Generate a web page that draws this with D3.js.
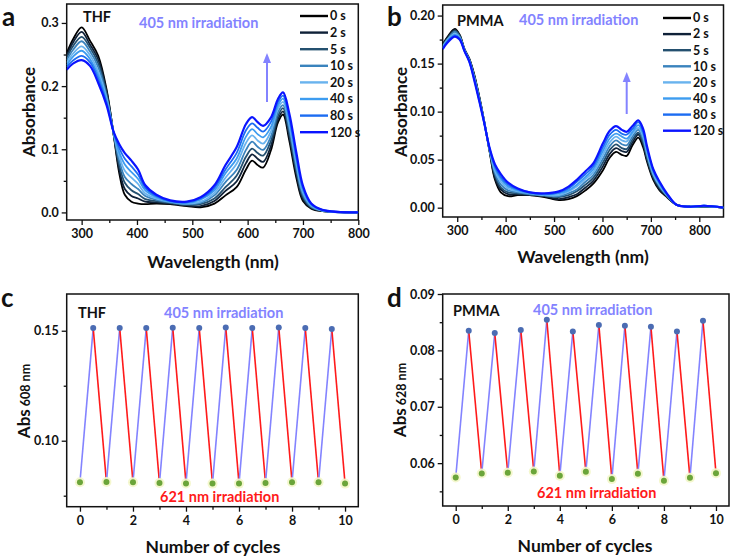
<!DOCTYPE html>
<html><head><meta charset="utf-8">
<script src="https://cdn.jsdelivr.net/npm/d3@7"></script>
<style>
body{margin:0;background:#fff}
svg text{font-family:Lato,'Open Sans',sans-serif;font-weight:bold;fill:#111}
</style></head><body>
<svg id="c" width="731" height="557"></svg>
<script>
// ---------------- DATA ----------------
const TIMES = ["0 s","2 s","5 s","10 s","20 s","40 s","80 s","120 s"];

// Panel a: THF spectra
const WL_THF = [273,285,300,315,330,345,358,368,378,390,402,415,435,460,490,515,540,560,580,597,608,618,628,642,655,664,675,688,700,715,735,800];
const THF_0s   = [0.252,0.275,0.293,0.272,0.248,0.195,0.122,0.062,0.028,0.017,0.014,0.013,0.014,0.013,0.010,0.008,0.014,0.027,0.040,0.068,0.082,0.075,0.071,0.098,0.143,0.155,0.115,0.055,0.018,0.006,0.002,0.000];
const THF_2s   = [0.248,0.270,0.286,0.266,0.242,0.192,0.123,0.068,0.037,0.026,0.022,0.017,0.016,0.014,0.011,0.010,0.018,0.034,0.049,0.078,0.092,0.085,0.080,0.105,0.148,0.160,0.121,0.061,0.021,0.007,0.002,0.000];
const THF_5s   = [0.245,0.264,0.278,0.261,0.236,0.188,0.123,0.075,0.047,0.035,0.029,0.021,0.018,0.015,0.012,0.013,0.022,0.040,0.058,0.088,0.101,0.094,0.090,0.113,0.153,0.165,0.127,0.066,0.025,0.008,0.003,0.000];
const THF_10s  = [0.241,0.258,0.271,0.255,0.230,0.184,0.124,0.082,0.056,0.045,0.037,0.026,0.020,0.016,0.013,0.015,0.027,0.048,0.067,0.099,0.112,0.104,0.099,0.120,0.159,0.170,0.134,0.072,0.028,0.009,0.003,0.000];
const THF_20s  = [0.237,0.252,0.263,0.249,0.223,0.181,0.125,0.089,0.066,0.055,0.045,0.030,0.022,0.017,0.014,0.017,0.031,0.055,0.077,0.110,0.122,0.114,0.109,0.128,0.165,0.175,0.140,0.078,0.032,0.011,0.003,0.000];
const THF_40s  = [0.233,0.247,0.256,0.243,0.217,0.177,0.126,0.095,0.076,0.064,0.053,0.035,0.024,0.017,0.015,0.020,0.035,0.062,0.085,0.120,0.132,0.124,0.119,0.135,0.170,0.180,0.146,0.084,0.035,0.012,0.003,0.000];
const THF_80s  = [0.230,0.241,0.248,0.238,0.211,0.174,0.126,0.102,0.085,0.073,0.060,0.039,0.026,0.018,0.016,0.022,0.039,0.068,0.094,0.130,0.141,0.134,0.128,0.143,0.175,0.185,0.152,0.089,0.039,0.013,0.004,0.000];
const THF_120s = [0.226,0.236,0.241,0.232,0.205,0.170,0.127,0.108,0.094,0.082,0.068,0.043,0.028,0.019,0.017,0.024,0.043,0.075,0.103,0.140,0.151,0.143,0.137,0.150,0.180,0.190,0.158,0.095,0.042,0.014,0.004,0.000];

// Panel b: PMMA spectra
const WL_PMMA = [270,280,295,305,315,325,335,345,355,367,378,390,405,425,450,480,510,530,547,565,581,601,615,628,640,650,662,674,684,692,705,718,733,753,780,810,850];
const PMMA_0s   = [0.170,0.178,0.186,0.180,0.165,0.155,0.139,0.117,0.092,0.058,0.029,0.016,0.012,0.013,0.013,0.011,0.008,0.009,0.012,0.018,0.025,0.039,0.052,0.058,0.055,0.054,0.065,0.073,0.063,0.048,0.029,0.018,0.011,0.003,0.001,0.001,0.000];
const PMMA_2s   = [0.169,0.177,0.185,0.179,0.165,0.155,0.138,0.116,0.092,0.059,0.031,0.019,0.014,0.014,0.013,0.012,0.009,0.011,0.014,0.021,0.028,0.043,0.056,0.062,0.059,0.058,0.068,0.076,0.066,0.050,0.031,0.019,0.012,0.003,0.001,0.001,0.000];
const PMMA_5s   = [0.169,0.176,0.184,0.179,0.164,0.154,0.137,0.116,0.091,0.059,0.034,0.021,0.016,0.015,0.014,0.012,0.011,0.013,0.017,0.024,0.031,0.047,0.060,0.066,0.062,0.061,0.071,0.078,0.068,0.052,0.032,0.021,0.012,0.003,0.001,0.001,0.000];
const PMMA_10s  = [0.168,0.175,0.183,0.178,0.164,0.154,0.136,0.115,0.091,0.060,0.036,0.024,0.018,0.016,0.014,0.013,0.012,0.015,0.019,0.027,0.034,0.051,0.064,0.070,0.066,0.065,0.074,0.081,0.071,0.055,0.034,0.022,0.013,0.003,0.001,0.001,0.000];
const PMMA_20s  = [0.167,0.175,0.181,0.177,0.164,0.153,0.136,0.114,0.091,0.060,0.038,0.027,0.020,0.017,0.015,0.013,0.013,0.017,0.022,0.030,0.037,0.055,0.068,0.074,0.070,0.069,0.077,0.083,0.074,0.057,0.035,0.023,0.013,0.003,0.001,0.002,0.000];
const PMMA_40s  = [0.166,0.174,0.180,0.176,0.164,0.153,0.135,0.113,0.091,0.061,0.041,0.030,0.022,0.018,0.015,0.014,0.015,0.018,0.024,0.032,0.040,0.059,0.072,0.077,0.074,0.072,0.079,0.086,0.077,0.060,0.037,0.025,0.014,0.003,0.001,0.002,0.000];
const PMMA_80s  = [0.166,0.173,0.179,0.176,0.163,0.152,0.134,0.113,0.090,0.061,0.043,0.032,0.024,0.019,0.016,0.014,0.016,0.020,0.027,0.035,0.043,0.063,0.076,0.081,0.077,0.076,0.082,0.089,0.079,0.062,0.039,0.026,0.014,0.003,0.001,0.002,0.000];
const PMMA_120s = [0.165,0.172,0.178,0.175,0.163,0.152,0.133,0.112,0.090,0.062,0.045,0.035,0.026,0.020,0.016,0.015,0.017,0.022,0.029,0.038,0.046,0.067,0.080,0.085,0.081,0.079,0.085,0.091,0.082,0.064,0.040,0.027,0.015,0.003,0.001,0.002,0.000];

// Panels c, d: switching cycles
const CYCLE_X = [0,0.5,1,1.5,2,2.5,3,3.5,4,4.5,5,5.5,6,6.5,7,7.5,8,8.5,9,9.5,10];
const THF_CYCLES  = [0.0811,0.1512,0.0812,0.1512,0.0811,0.1512,0.0808,0.1514,0.0806,0.1512,0.0805,0.1515,0.0805,0.1512,0.0808,0.1515,0.0811,0.1512,0.0811,0.1508,0.0805];
const PMMA_CYCLES = [0.05746,0.08348,0.05817,0.08307,0.05829,0.0836,0.05853,0.08543,0.05776,0.08336,0.05847,0.08448,0.05717,0.08437,0.05811,0.08419,0.05687,0.08336,0.0574,0.08525,0.05823];

// tick values
const A_XTICKS = [300,400,500,600,700,800], A_XMINOR = [350,450,550,650,750];
const A_YTICKS = [0,0.1,0.2,0.3], A_YMINOR = [0.05,0.15,0.25];
const B_XTICKS = [300,400,500,600,700,800], B_XMINOR = [350,450,550,650,750];
const B_YTICKS = [0,0.05,0.10,0.15,0.20], B_YMINOR = [0.025,0.075,0.125,0.175];
const C_XTICKS = [0,2,4,6,8,10], C_XMINOR = [1,3,5,7,9];
const C_YTICKS = [0.10,0.15], C_YMINOR = [0.075,0.125];
const D_YTICKS = [0.06,0.07,0.08,0.09], D_YMINOR = [0.055,0.065,0.075,0.085];

// ---------------- STYLE ----------------
const COLORS = ["#000000","#0f2138","#24506f","#3a83bd","#69b3ee","#3d9cf0","#1c6cf2","#0a14ff"];
const PURPLE = "#8383ff";

const svg = d3.select("#c");

function panel(box, x, y, xt, xm, yt, ym, yfmt) {
  const g = svg.append("g");
  const ax = g.append("g").attr("transform", `translate(0,${box.y1})`)
    .call(d3.axisBottom(x).tickValues(xt).tickSize(5).tickPadding(4).tickFormat(d3.format("d")));
  const axm = g.append("g").attr("transform", `translate(0,${box.y1})`)
    .call(d3.axisBottom(x).tickValues(xm).tickSize(3).tickFormat(""));
  const ay = g.append("g").attr("transform", `translate(${box.x0},0)`)
    .call(d3.axisLeft(y).tickValues(yt).tickSize(5).tickPadding(3).tickFormat(d3.format(yfmt)));
  const aym = g.append("g").attr("transform", `translate(${box.x0},0)`)
    .call(d3.axisLeft(y).tickValues(ym).tickSize(3).tickFormat(""));
  [ax, axm, ay, aym].forEach(a => {
    a.select(".domain").remove();
    a.selectAll("line").attr("stroke", "#111").attr("stroke-width", 1.3);
    a.selectAll("text").attr("font-size", 12.5).attr("fill", "#111");
  });
  g.append("rect").attr("x", box.x0).attr("y", box.y0)
    .attr("width", box.x1 - box.x0).attr("height", box.y1 - box.y0)
    .attr("fill", "none").attr("stroke", "#111").attr("stroke-width", 1.5);
  return g;
}

function text(x, y, s, size, fill, anchor) {
  return svg.append("text").attr("x", x).attr("y", y).text(s)
    .attr("font-size", size).style("fill", fill || "#111").attr("text-anchor", anchor || "start");
}
function rotText(x, y, size) {
  return svg.append("text").attr("transform", `translate(${x},${y}) rotate(-90)`)
    .attr("text-anchor", "middle").attr("font-size", size);
}

function spectra(box, id, wl, series, x, y) {
  svg.append("clipPath").attr("id", id).append("rect")
    .attr("x", box.x0).attr("y", box.y0).attr("width", box.x1 - box.x0).attr("height", box.y1 - box.y0);
  const line = d3.line().x((d, i) => x(wl[i])).y(d => y(d)).curve(d3.curveCatmullRom.alpha(0.5));
  const g = svg.append("g").attr("clip-path", `url(#${id})`);
  series.forEach((s, i) => {
    g.append("path").attr("d", line(s)).attr("fill", "none")
      .attr("stroke", COLORS[i]).attr("stroke-width", i === 7 ? 2.2 : 1.8);
  });
}

function legend(lx, ly, dy) {
  TIMES.forEach((t, i) => {
    svg.append("line").attr("x1", lx).attr("x2", lx + 28).attr("y1", ly + i * dy).attr("y2", ly + i * dy)
      .attr("stroke", COLORS[i]).attr("stroke-width", 2.4);
    svg.append("text").attr("x", lx + 30).attr("y", ly + i * dy).attr("dy", "0.35em")
      .attr("font-size", 12.5).text(t);
  });
}

function arrow(ax, yBottom, yTop) {
  svg.append("line").attr("x1", ax).attr("x2", ax).attr("y1", yBottom).attr("y2", yTop + 8)
    .attr("stroke", PURPLE).attr("stroke-width", 2);
  svg.append("path").attr("d", `M${ax - 4},${yTop + 10} L${ax},${yTop} L${ax + 4},${yTop + 10} Z`).attr("fill", PURPLE);
}

function cycles(box, x, y, vals) {
  const g = svg.append("g");
  for (let i = 0; i < vals.length - 1; i++) {
    const up = vals[i + 1] > vals[i];
    g.append("line").attr("x1", x(CYCLE_X[i])).attr("y1", y(vals[i]))
      .attr("x2", x(CYCLE_X[i + 1])).attr("y2", y(vals[i + 1]))
      .attr("stroke", up ? PURPLE : "#ff1a1a").attr("stroke-width", 1.6);
  }
  vals.forEach((v, i) => {
    const high = i % 2 === 1;
    if (!high) g.append("circle").attr("cx", x(CYCLE_X[i])).attr("cy", y(v)).attr("r", 5).attr("fill", "#f3f6c9").attr("opacity", 0.9);
    g.append("circle").attr("cx", x(CYCLE_X[i])).attr("cy", y(v)).attr("r", 3)
      .attr("fill", high ? "#4b6cb3" : "#6ba53a");
  });
}

// ---------------- PANEL A ----------------
const boxA = {x0: 66.7, x1: 358.3, y0: 4, y1: 220};
const xA = d3.scaleLinear().domain([273, 800]).range([boxA.x0, boxA.x1]);
const yA = d3.scaleLinear().domain([-0.012, 0.33]).range([boxA.y1, boxA.y0]);
panel(boxA, xA, yA, A_XTICKS, A_XMINOR, A_YTICKS, A_YMINOR, ".1f");
spectra(boxA, "clipA", WL_THF, [THF_0s, THF_2s, THF_5s, THF_10s, THF_20s, THF_40s, THF_80s, THF_120s], xA, yA);
legend(300, 16, 16.6);
arrow(267, 102, 53);
text(2, 26, "a", 26);
text(83, 22, "THF", 14.5);
text(139, 28, "405 nm irradiation", 14.5, PURPLE);
rotText(35, 112, 17).text("Absorbance");
text(213, 268, "Wavelength (nm)", 17.5, "#111", "middle");

// ---------------- PANEL B ----------------
const boxB = {x0: 442.7, x1: 723.5, y0: 5, y1: 217};
const xB = d3.scaleLinear().domain([270, 850]).range([boxB.x0, boxB.x1]);
const yB = d3.scaleLinear().domain([-0.0097, 0.211]).range([boxB.y1, boxB.y0]);
panel(boxB, xB, yB, B_XTICKS, B_XMINOR, B_YTICKS, B_YMINOR, ".2f");
spectra(boxB, "clipB", WL_PMMA, [PMMA_0s, PMMA_2s, PMMA_5s, PMMA_10s, PMMA_20s, PMMA_40s, PMMA_80s, PMMA_120s], xB, yB);
legend(663, 18, 16.1);
arrow(626.7, 114, 72);
text(387, 26, "b", 26);
text(457, 26, "PMMA", 14.5);
text(519, 25, "405 nm irradiation", 14.5, PURPLE);
rotText(407, 112, 17).text("Absorbance");
text(583, 263, "Wavelength (nm)", 17.5, "#111", "middle");

// ---------------- PANEL C ----------------
const boxC = {x0: 66.7, x1: 358.3, y0: 294, y1: 506.7};
const xC = d3.scaleLinear().domain([-0.5, 10.5]).range([boxC.x0, boxC.x1]);
const yC = d3.scaleLinear().domain([0.07, 0.1667]).range([boxC.y1, boxC.y0]);
panel(boxC, xC, yC, C_XTICKS, C_XMINOR, C_YTICKS, C_YMINOR, ".2f");
cycles(boxC, xC, yC, THF_CYCLES);
text(1, 307, "c", 26);
text(78, 318, "THF", 14.5);
text(164, 318, "405 nm irradiation", 14.5, PURPLE);
text(160, 502, "621 nm irradiation", 14.5, "#ff1a1a");
const tc = rotText(30, 401, 17);
tc.append("tspan").text("Abs");
tc.append("tspan").attr("font-size", 12.5).text(" 608 nm");
text(213, 553, "Number of cycles", 17.5, "#111", "middle");

// ---------------- PANEL D ----------------
const boxD = {x0: 442.7, x1: 729, y0: 294, y1: 506};
const xD = d3.scaleLinear().domain([-0.5, 10.5]).range([boxD.x0, boxD.x1]);
const yD = d3.scaleLinear().domain([0.0524, 0.09]).range([boxD.y1, boxD.y0]);
panel(boxD, xD, yD, C_XTICKS, C_XMINOR, D_YTICKS, D_YMINOR, ".2f");
cycles(boxD, xD, yD, PMMA_CYCLES);
text(387, 307, "d", 26);
text(453, 316, "PMMA", 14.5);
text(533, 315, "405 nm irradiation", 14.5, PURPLE);
text(537, 498, "621 nm irradiation", 14.5, "#ff1a1a");
const td = rotText(406, 400, 17);
td.append("tspan").text("Abs");
td.append("tspan").attr("font-size", 12.5).text(" 628 nm");
text(585, 552, "Number of cycles", 17.5, "#111", "middle");
</script>
</body></html>
